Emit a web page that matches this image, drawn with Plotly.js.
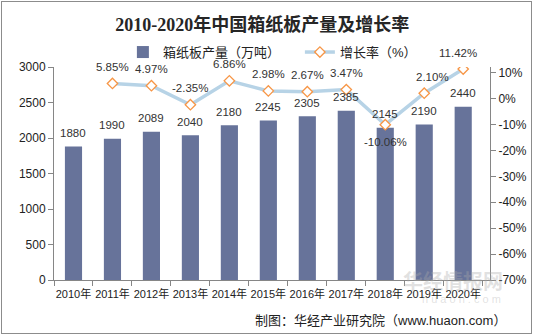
<!DOCTYPE html>
<html>
<head>
<meta charset="utf-8">
<script src="https://cdn.plot.ly/plotly-3.0.1.min.js"></script>
<style>
  html, body { margin: 0; padding: 0; background: #fff; }
  #wrap { position: relative; width: 533px; height: 335px; }
  #chart { width: 533px; height: 335px; }
  #frame { position: absolute; left: 1px; top: 1px; width: 529px; height: 331px; border: 1px solid #8c8c8c; pointer-events: none; }
</style>
</head>
<body>
<div id="wrap"><div id="chart"></div><div id="frame"></div></div>
<script>
const years = ["2010年","2011年","2012年","2013年","2014年","2015年","2016年","2017年","2018年","2019年","2020年"];
const output = [1880, 1990, 2089, 2040, 2180, 2245, 2305, 2385, 2145, 2190, 2440];
const growthYears = ["2011年","2012年","2013年","2014年","2015年","2016年","2017年","2018年","2019年","2020年"];
const growth = [5.85, 4.97, -2.35, 6.86, 2.98, 2.67, 3.47, -10.06, 2.10, 11.42];
const rightTicks = [10, 0, -10, -20, -30, -40, -50, -60, -70];
const rightTickText = ["10%", "0%", "-10%", "-20%", "-30%", "-40%", "-50%", "-60%", "-70%"];

const txtFont = {family: "Liberation Sans, Arial, Noto Sans CJK SC", size: 11.5, color: "#333"};

const traces = [
  {
    type: "bar", name: "箱纸板产量（万吨）", x: years, y: output,
    marker: {color: "#67739a"}, yaxis: "y", hoverinfo: "skip"
  },
  {
    type: "scatter", mode: "lines+markers", name: "增长率（%）", x: growthYears, y: growth,
    yaxis: "y2",
    line: {color: "#b7d3e6", width: 3.5},
    marker: {symbol: "diamond", size: 8, color: "#ffffff", line: {color: "#f79646", width: 1.3}},
    hoverinfo: "skip"
  }
];

const annotations = [];
output.forEach((v, i) => annotations.push({
  x: years[i], y: v, xref: "x", yref: "y", text: String(v), showarrow: false,
  yanchor: "middle", yshift: 13.5, font: txtFont
}));
growth.forEach((v, i) => {
  let ys = 16.5, xs = 0;
  if (v === -10.06) ys = -17;
  if (growthYears[i] === "2019年") xs = 8;
  if (growthYears[i] === "2020年") { xs = -5; ys = 16.5; }
  annotations.push({
    x: growthYears[i], y: v, xref: "x", yref: "y2", text: v.toFixed(2) + "%", showarrow: false,
    yanchor: "middle", yshift: ys, xshift: xs, font: txtFont
  });
});
annotations.push({
  xref: "paper", yref: "paper", x: 1.042, y: -0.188, xanchor: "right", yanchor: "middle",
  text: "制图：华经产业研究院（www.huaon.com）", showarrow: false,
  font: {family: "Liberation Sans, Noto Sans CJK SC", size: 13, color: "#222"}
});
annotations.push({
  xref: "paper", yref: "paper", x: 1.035, y: 0.0, xanchor: "right", yanchor: "middle",
  text: "<b>华经情报网</b>", showarrow: false,
  font: {family: "Noto Sans CJK SC", size: 20, color: "rgba(170,170,170,0.35)"}
});
annotations.push({
  xref: "paper", yref: "paper", x: 1.03, y: -0.09, xanchor: "right", yanchor: "middle",
  text: "h u a o n . c o m", showarrow: false,
  font: {family: "Liberation Sans", size: 11, color: "rgba(170,170,170,0.35)"}
});

const layout = {
  width: 533, height: 335,
  margin: {l: 54, r: 43, t: 67, b: 55},
  paper_bgcolor: "#fff", plot_bgcolor: "#fff",
  title: {
    text: "2010-2020年中国箱纸板产量及增长率",
    font: {family: "Liberation Serif, Noto Sans CJK SC", size: 18, color: "#262626", weight: "bold"},
    x: 0.492, xanchor: "center", y: 0.925, yanchor: "middle"
  },
  showlegend: true,
  legend: {
    orientation: "h", x: 0.158, xanchor: "left", y: 1.07, yanchor: "middle",
    font: {family: "Liberation Sans, Noto Sans CJK SC", size: 13, color: "#222"},
    bgcolor: "rgba(0,0,0,0)", entrywidth: 132, itemclick: false
  },
  bargap: 0.56,
  xaxis: {
    type: "category", showline: true, linecolor: "#868686", linewidth: 1,
    ticks: "outside", tickson: "boundaries", ticklen: 5, tickcolor: "#868686",
    tickangle: 0, ticklabelstandoff: 4,
    tickfont: {family: "Liberation Sans, Noto Sans CJK SC", size: 11, color: "#222"},
    showgrid: false, zeroline: false, fixedrange: true
  },
  yaxis: {
    range: [0, 3000], tickvals: [0, 500, 1000, 1500, 2000, 2500, 3000],
    showline: true, linecolor: "#868686", ticks: "outside", ticklen: 5, tickcolor: "#868686",
    tickfont: {family: "Liberation Sans", size: 12, color: "#222"},
    showgrid: false, zeroline: false, fixedrange: true
  },
  yaxis2: {
    overlaying: "y", side: "right", range: [-70, 12.2], tickmode: "array",
    tickvals: rightTicks, ticktext: rightTickText,
    showline: true, linecolor: "#868686", ticks: "outside", ticklen: 5, tickcolor: "#868686",
    tickfont: {family: "Liberation Sans", size: 12, color: "#222"},
    showgrid: false, zeroline: false, fixedrange: true
  },
  annotations: annotations
};

Plotly.newPlot("chart", traces, layout, {displayModeBar: false, staticPlot: true});
</script>
</body>
</html>
